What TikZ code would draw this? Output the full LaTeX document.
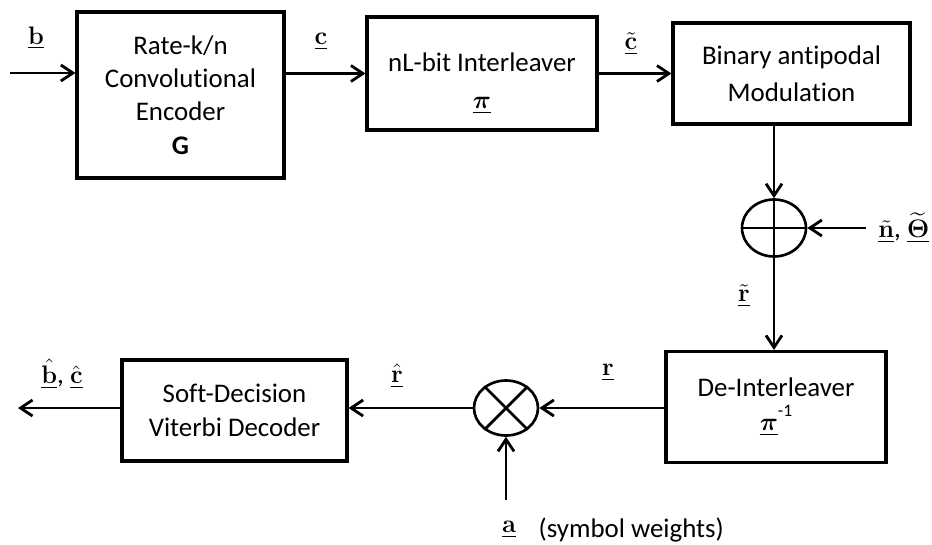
\documentclass[tikz,border=0pt]{standalone}
\usepackage{amsmath,amssymb}
\usepackage[no-math]{fontspec}
\setmainfont{Carlito}[Ligatures=NoCommon]
\usetikzlibrary{arrows.meta,positioning,shapes.geometric}
\newcommand{\vb}[1]{\underline{\mathbf{#1}}}

\begin{document}
\begin{tikzpicture}[x=0.02cm, y=-0.02cm, >={Straight Barb[length=2.4mm,width=3.2mm]}, line width=1.6pt,
 block/.style={draw,line width=1.8pt,align=center,inner sep=0pt,font=\fontsize{15.3}{19}\selectfont},
 junc/.style={draw,ellipse,line width=1.5pt,minimum width=1.28cm,minimum height=1.14cm,inner sep=0pt},
 sig/.style={inner sep=0pt,font=\fontsize{15.5}{18}\selectfont}]
\useasboundingbox (0,0) rectangle (932,544);
% transmitter chain
\node[block,minimum width=4.14cm,minimum height=3.32cm] (enc) at (180.5,95) {Rate-k/n\\Convolutional\\Encoder\\\textbf{G}};
\node[block,minimum width=4.6cm,minimum height=2.26cm] (intl) at (482,73.5) {\rule{0pt}{22pt}nL-bit Interleaver\\[2pt]$\underline{\boldsymbol{\pi}}$};
\node[block,minimum width=4.74cm,minimum height=2.02cm] (mod) at (791.5,73.5) {Binary antipodal\\[2pt]Modulation};
\node[junc] (adder) at (774,228) {};
% receiver chain
\node[block,minimum width=4.4cm,minimum height=2.22cm] (deint) at (776,407) {De-Interleaver\\$\underline{\boldsymbol{\pi}}$\raisebox{1.1ex}{\fontsize{10}{12}\selectfont -1}};
\node[junc,minimum height=1.1cm] (mult) at (506,408) {};
\node[block,minimum width=4.5cm,minimum height=2.02cm] (vit) at (234.5,410.5) {Soft-Decision\\Viterbi Decoder};
\coordinate (bin) at (10,73);
\coordinate (noise) at (866,228);
\coordinate (out) at (18,408);
\coordinate (wgt) at (506,500);
% connectors
\draw[->] (bin) -- (bin -| enc.west);
\draw[->] (enc.east |- intl) -- (intl.west);
\draw[->] (intl.east) -- (mod.west);
\draw[->] (mod.south -| adder) -- (adder.north);
\draw[->] (noise) -- (adder.east);
\draw (adder.west) -- (adder.east) (adder.north) -- (adder.south);
\draw[->] (adder.south) -- (adder |- deint.north);
\draw[->] (deint.west |- mult) -- (mult.east);
\draw (mult.45) -- (mult.225) (mult.135) -- (mult.315);
\draw[->] (wgt) -- (mult.south);
\draw[->] (mult.west) -- (mult -| vit.east);
\draw[->] (vit.west |- out) -- (out);
% signal labels
\node[sig] (lb) at (36,38) {$\vb{b}$};
\node[sig] (lc) at (321,42) {$\vb{c}$};
\node[sig] (lct) at (631,44) {$\underline{\tilde{\mathbf{c}}}$};
\node[sig,anchor=west] (ln) at (877,228) {$\underline{\tilde{\mathbf{n}}}$, $\underline{\widetilde{\mathbf{\Theta}}}$};
\node[sig] (lrt) at (744,296) {$\underline{\tilde{\mathbf{r}}}$};
\node[sig] (lr) at (608,373) {$\vb{r}$};
\node[sig] (lrh) at (397,376) {$\underline{\hat{\mathbf{r}}}$};
\node[sig] (lbc) at (62,374) {$\underline{\hat{\mathbf{b}}}$, $\underline{\hat{\mathbf{c}}}$};
\node[sig] (la) at (509,530) {$\vb{a}$};
\node[sig,right=4mm of la,font=\fontsize{15.3}{19}\selectfont] (lsw) {(symbol weights)};
\end{tikzpicture}
\end{document}
